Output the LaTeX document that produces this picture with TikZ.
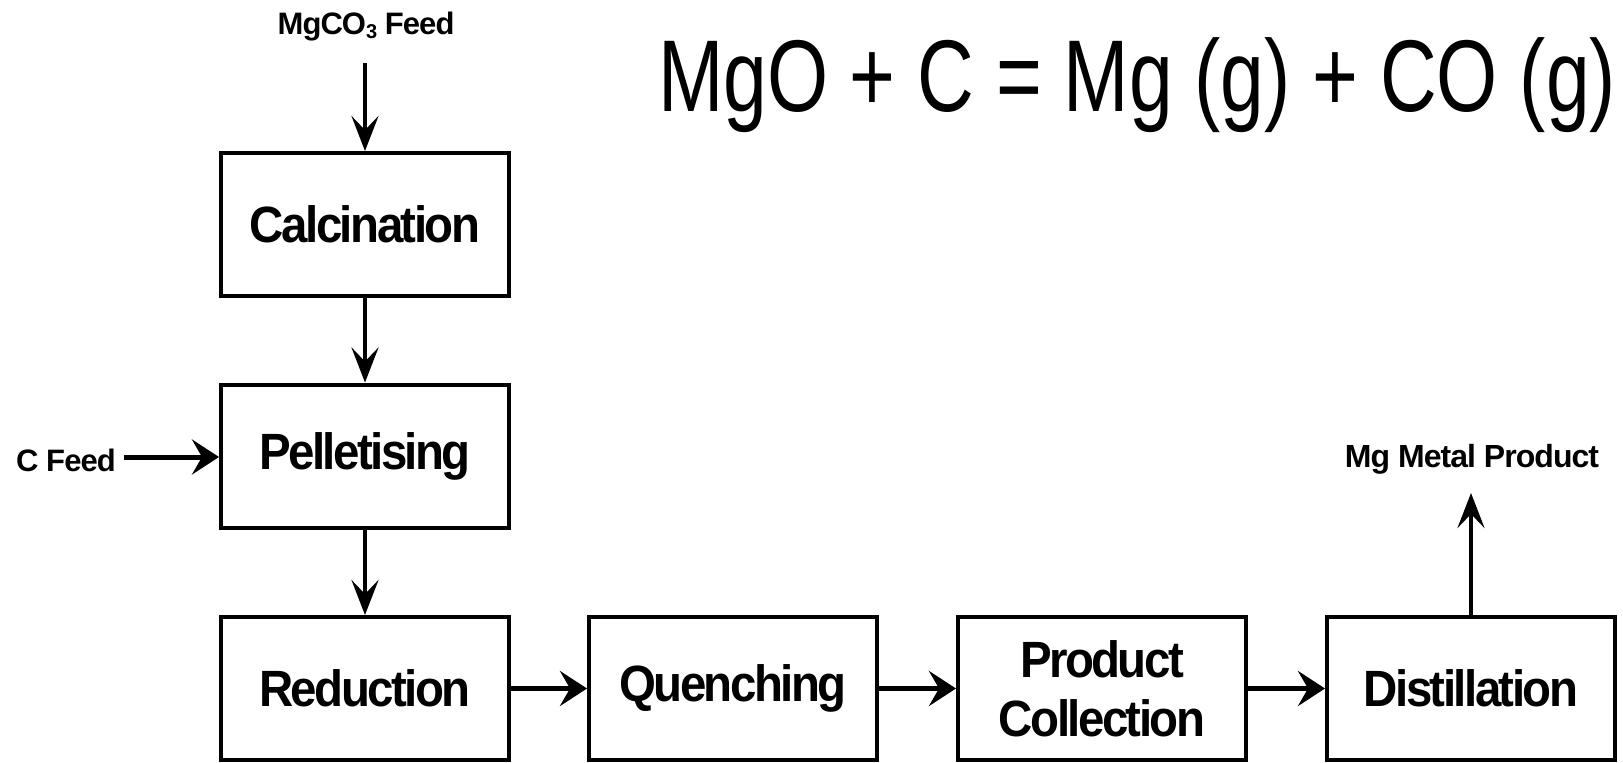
\documentclass[tikz,border=0pt]{standalone}
\usepackage{fontspec}
\setmainfont{Liberation Sans}
\newfontfamily\boxfont[FakeStretch=0.93,LetterSpace=-5]{Liberation Sans}
\newfontfamily\lblfont[LetterSpace=-3]{Liberation Sans}
\newfontfamily\eqfont[FakeStretch=0.77]{Liberation Sans}
\usetikzlibrary{arrows.meta}
\begin{document}
\begin{tikzpicture}[x=1pt,y=-1pt,
  proc/.style={draw, line width=4pt, minimum width=288pt, minimum height=143pt,
    inner sep=0pt, align=center, font=\boxfont\bfseries\fontsize{51}{59}\selectfont},
  lbl/.style={inner sep=0pt, anchor=base, font=\lblfont\bfseries\fontsize{#1}{#1}\selectfont},
  vflow/.style={line width=4pt, -{Stealth[length=35pt,width=27pt,inset=14pt]}},
  hflow/.style={line width=5pt, -{Stealth[length=27pt,width=35pt,inset=10pt]}}]
\useasboundingbox (0,0) rectangle (1623,763);

\node[proc] (calc) at (365,224.5) {Calcination};
\node[proc] (pel)  at (365,456)   {Pelletising};
\node[proc] (red)  at (365,688.5) {Reduction};
\node[proc] (que)  at (733,688.5) {Quenching};
\node[proc] (prod) at (1102,688.5) {Product\\Collection};
\node[proc] (dist) at (1471,688.5) {Distillation};

\node[lbl=31] (mgco) at (366,34) {MgCO\raisebox{-0.3ex}{\fontsize{20}{20}\selectfont 3} Feed};
\node[lbl=31] (cfeed) at (66,471) {C Feed};
\node[lbl=32] (mgout) at (1472,467) {Mg Metal Product};

\node[inner sep=0pt, anchor=base, font=\eqfont\fontsize{102}{102}\selectfont] (eq) at (1137,111)
  {MgO + C = Mg (g) + CO (g)};

\coordinate (mgtop) at (365,63);
\coordinate (cstart) at (124,457);
\coordinate (mgend) at (1471,493);

\draw[vflow] (mgtop) -- (calc.north);
\draw[vflow] (calc.south) -- (pel.north);
\draw[vflow] (pel.south) -- (red.north);
\draw[hflow] (cstart) -- (cstart -| pel.west);
\draw[hflow] (red.east) -- (que.west);
\draw[hflow] (que.east) -- (prod.west);
\draw[hflow] (prod.east) -- (dist.west);
\draw[vflow] (dist.north) -- (mgend);
\end{tikzpicture}
\end{document}
